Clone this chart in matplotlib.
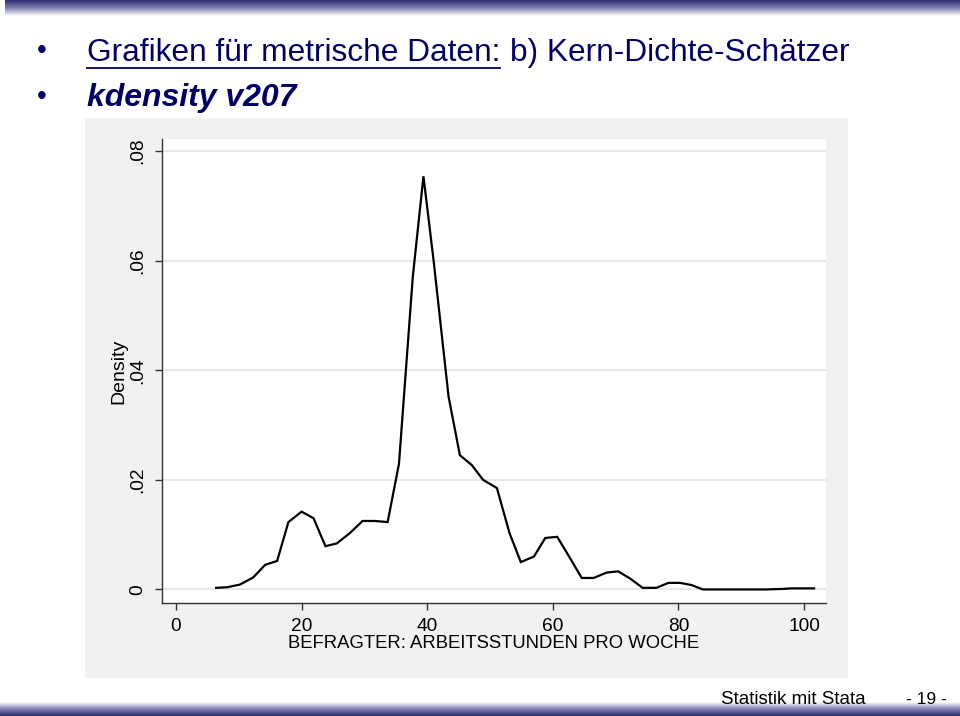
import numpy as np
import matplotlib
matplotlib.use("Agg")
import matplotlib.pyplot as plt
from matplotlib.colors import LinearSegmentedColormap

# kdensity v207, values
hours = [6.4, 8.1, 10.2, 12.3, 14.2, 16.1, 17.9, 20.0, 21.9, 23.8,
         25.6, 27.7, 29.7, 31.6, 33.7, 35.5, 37.7, 39.4, 41.0, 43.4,
         45.2, 47.1, 48.9, 51.1, 53.1, 54.9, 57.0, 58.8, 60.7, 62.6,
         64.6, 66.5, 68.6, 70.4, 72.3, 74.3, 76.5, 78.4, 80.3, 82.1,
         83.9, 86.0, 88.0, 90.0, 92.0, 94.0, 96.6, 98.0, 99.8, 101.6]
density = [0.0003, 0.0004, 0.0009, 0.0022, 0.0045, 0.0052, 0.0123, 0.0142, 0.0130, 0.0079,
           0.0084, 0.0103, 0.0125, 0.0125, 0.0123, 0.0229, 0.0570, 0.0754, 0.0602, 0.0352,
           0.0245, 0.0227, 0.0200, 0.0185, 0.0103, 0.0050, 0.0060, 0.0094, 0.0096, 0.0060,
           0.0021, 0.0021, 0.0031, 0.0033, 0.0020, 0.0003, 0.0003, 0.0012, 0.0012, 0.0008,
           0.0000, 0.0000, 0.0000, 0.0000, 0.0000, 0.0000, 0.0001, 0.0002, 0.0002, 0.0002]

x_ticks = [0, 20, 40, 60, 80, 100]
y_ticks = [0, 0.02, 0.04, 0.06, 0.08]
y_labels = ["0", ".02", ".04", ".06", ".08"]

NAVY = "#000066"
FONT = ["Liberation Sans", "DejaVu Sans"]

fig = plt.figure(figsize=(9.6, 7.16), dpi=100)
fig.patch.set_facecolor("white")
W, H = 960.0, 716.0

# header / footer gradient bars
grad = LinearSegmentedColormap.from_list("bar", ["#2b2b72", "#8080b0", "#ffffff"])
top = fig.add_axes([5 / W, 1 - 16 / H, 1 - 5 / W, 16 / H])
top.imshow(np.linspace(0, 1, 64).reshape(-1, 1), aspect="auto", cmap=grad)
top.axis("off")
bot = fig.add_axes([0.0, 0.0, 1.0, 14 / H])
bot.imshow(np.linspace(1, 0, 64).reshape(-1, 1), aspect="auto", cmap=grad)
bot.axis("off")

# slide text
fig.text(42 / W, 1 - 51 / H, "\u2022", color=NAVY, fontsize=20, ha="center", va="center", family=FONT)
fig.text(42 / W, 1 - 97 / H, "\u2022", color=NAVY, fontsize=20, ha="center", va="center", family=FONT)
t1 = fig.text(87 / W, 1 - 53 / H, "Grafiken f\u00fcr metrische Daten:", color=NAVY,
              fontsize=22.8, va="center", family=FONT)
renderer = fig.canvas.get_renderer()
ext = t1.get_window_extent(renderer)
fig.text((ext.x1 + 10) / W, 1 - 53 / H, "b) Kern-Dichte-Sch\u00e4tzer", color=NAVY,
         fontsize=22.8, va="center", family=FONT)
fig.add_artist(plt.Line2D([ext.x0 / W, ext.x1 / W], [1 - 68 / H, 1 - 68 / H],
                          color=NAVY, lw=1.3, transform=fig.transFigure))
fig.text(87 / W, 1 - 98 / H, "kdensity v207", color=NAVY, fontsize=23,
         fontweight="bold", fontstyle="italic", va="center", family=FONT)

fig.text(866 / W, 1 - 700 / H, "Statistik mit Stata", color="black", fontsize=13.5,
         ha="right", va="center", family=FONT)
fig.text(947 / W, 1 - 700 / H, "- 19 -", color="black", fontsize=12.5,
         ha="right", va="center", family=FONT)

# stata graph background
bg = fig.add_axes([85 / W, 1 - 678 / H, (848 - 85) / W, (678 - 118) / H])
bg.set_facecolor("#f1f1f1")
bg.set_xticks([])
bg.set_yticks([])
for s in bg.spines.values():
    s.set_visible(False)

ax = fig.add_axes([162 / W, 1 - 603 / H, (826 - 162) / W, (603 - 139) / H])
ax.set_facecolor("white")
ax.plot(hours, density, color="black", lw=1.6, solid_joinstyle="miter")
ax.set_xlim(-2.23, 103.5)
ax.set_ylim(-0.00247, 0.0822)
ax.set_xticks(x_ticks)
ax.set_yticks(y_ticks)
ax.set_yticklabels(y_labels, rotation=90, va="center")
ax.grid(axis="y", color="#e6e6e6", lw=1.3)
ax.set_axisbelow(True)
for side in ["top", "right"]:
    ax.spines[side].set_visible(False)
for side in ["left", "bottom"]:
    ax.spines[side].set_color("#333333")
    ax.spines[side].set_linewidth(1.0)
ax.tick_params(colors="#333333", labelcolor="black", length=5, width=1.0, labelsize=13.8)
ax.tick_params(axis="x", pad=5.5)
ax.tick_params(axis="y", pad=6)
for lab in ax.get_xticklabels() + ax.get_yticklabels():
    lab.set_family(FONT)
ax.set_xlabel("BEFRAGTER: ARBEITSSTUNDEN PRO WOCHE", fontsize=13.3, family=FONT, labelpad=0.5)
ax.set_ylabel("Density", fontsize=14, family=FONT, labelpad=2)

fig.savefig("out.png", dpi=100)
